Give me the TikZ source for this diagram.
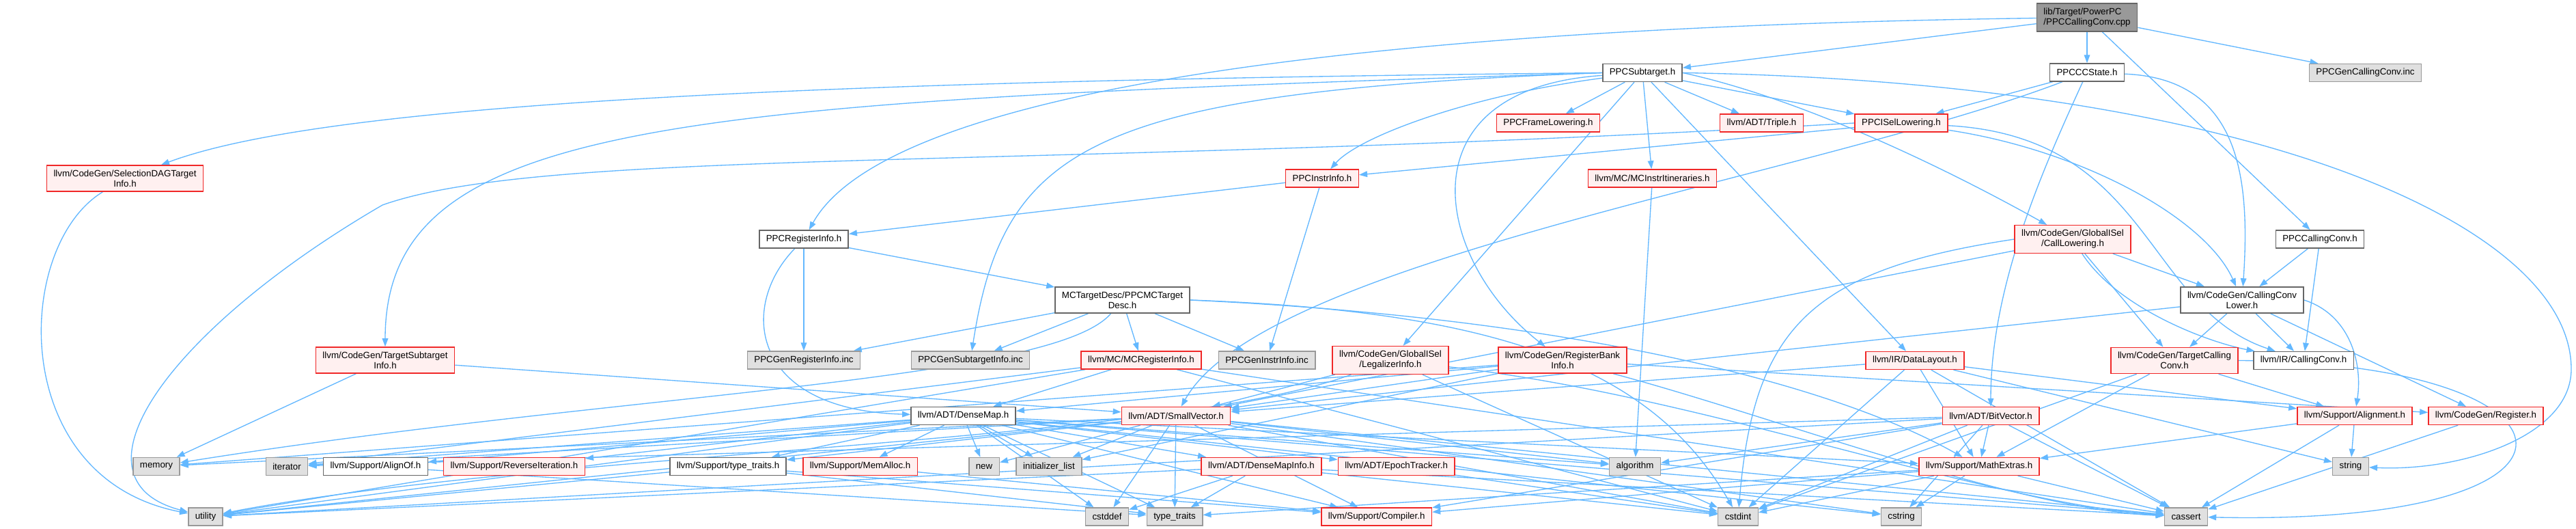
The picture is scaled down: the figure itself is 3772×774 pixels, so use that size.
\documentclass[tikz,border=0pt]{standalone}
\usepackage{fontspec}
\setmainfont{Liberation Sans}
\usetikzlibrary{arrows.meta,backgrounds}
\definecolor{edgeblue}{HTML}{63B8FF}
\definecolor{redfill}{HTML}{FFF0F0}
\definecolor{redline}{HTML}{F02828}
\definecolor{greyfill}{HTML}{E0E0E0}
\definecolor{greyline}{HTML}{999999}
\definecolor{rootfill}{HTML}{999999}
\definecolor{nodeline}{HTML}{666666}
\begin{document}
\begin{tikzpicture}[x=0.75pt,y=-0.75pt,
  base/.style={rectangle, font=\fontsize{10}{11.25}\selectfont, inner xsep=7.5pt, inner ysep=5pt, minimum height=19.5pt, line width=1.1pt, align=center},
  wbox/.style={base, draw=nodeline, fill=white},
  rbox/.style={base, draw=redline, fill=redfill},
  gbox/.style={base, draw=greyline, fill=greyfill},
  rootbox/.style={base, draw=nodeline, fill=rootfill, align=left},
  edge/.style={draw=edgeblue, line width=1pt, -{Triangle[length=9pt,width=6.5pt]}}
]
\useasboundingbox (0,0) rectangle (3772,774);
% ---------- nodes ----------
\node[rootbox] (root) at (3056,25.5) {lib/Target/PowerPC\\/PPCCallingConv.cpp};
\node[wbox] (subt) at (2405,106.5) {PPCSubtarget.h};
\node[wbox] (ccstate) at (3056,106) {PPCCCState.h};
\node[gbox] (gencc) at (3463.5,106.5) {PPCGenCallingConv.inc};
\node[rbox] (frame) at (2267,180) {PPCFrameLowering.h};
\node[rbox] (triple) at (2579.5,180) {llvm/ADT/Triple.h};
\node[rbox] (isel) at (2784,180) {PPCISelLowering.h};
\node[rbox] (seldag) at (183,261) {llvm/CodeGen/SelectionDAGTarget\\Info.h};
\node[rbox] (instrinfo) at (1936,261) {PPCInstrInfo.h};
\node[rbox] (itin) at (2419.5,261) {llvm/MC/MCInstrItineraries.h};
\node[wbox] (reginfo) at (1177,350) {PPCRegisterInfo.h};
\node[rbox] (calllow) at (3035,350) {llvm/CodeGen/GlobalISel\\/CallLowering.h};
\node[wbox] (ppccc) at (3397,350) {PPCCallingConv.h};
\node[wbox] (mcdesc) at (1643.5,439) {MCTargetDesc/PPCMCTarget\\Desc.h};
\node[wbox] (ccl) at (3283,439) {llvm/CodeGen/CallingConv\\Lower.h};
\node[rbox] (tsi) at (564,527) {llvm/CodeGen/TargetSubtarget\\Info.h};
\node[gbox] (genreg) at (1177,527) {PPCGenRegisterInfo.inc};
\node[gbox] (gensub) at (1421,527) {PPCGenSubtargetInfo.inc};
\node[rbox] (mcreg) at (1671,527) {llvm/MC/MCRegisterInfo.h};
\node[gbox] (geninstr) at (1855,527) {PPCGenInstrInfo.inc};
\node[rbox] (legal) at (2036,527) {llvm/CodeGen/GlobalISel\\/LegalizerInfo.h};
\node[rbox] (rbi) at (2288,527) {llvm/CodeGen/RegisterBank\\Info.h};
\node[rbox] (dl) at (2804,527.5) {llvm/IR/DataLayout.h};
\node[rbox] (tcc) at (3184,527.5) {llvm/CodeGen/TargetCalling\\Conv.h};
\node[wbox] (ircc) at (3373,527.5) {llvm/IR/CallingConv.h};
\node[wbox] (densemap) at (1410.5,608.5) {llvm/ADT/DenseMap.h};
\node[rbox] (smallvec) at (1722,608.5) {llvm/ADT/SmallVector.h};
\node[rbox] (bitvec) at (2915,608.5) {llvm/ADT/BitVector.h};
\node[rbox] (alignm) at (3448,608.5) {llvm/Support/Alignment.h};
\node[rbox] (register) at (3640,608.5) {llvm/CodeGen/Register.h};
\node[gbox] (memory) at (229,682.5) {memory};
\node[gbox] (iterator) at (420,682.5) {iterator};
\node[wbox] (alignof) at (550,682.5) {llvm/Support/AlignOf.h};
\node[rbox] (reviter) at (753,682.5) {llvm/Support/ReverseIteration.h};
\node[wbox] (ttraits) at (1066,682.5) {llvm/Support/type\_traits.h};
\node[rbox] (memalloc) at (1259.6,682.5) {llvm/Support/MemAlloc.h};
\node[gbox] (nnew) at (1441,682.5) {new};
\node[gbox] (initlist) at (1536,682.5) {initializer\_list};
\node[rbox] (dmi) at (1847,682.5) {llvm/ADT/DenseMapInfo.h};
\node[rbox] (epoch) at (2044.6,682.5) {llvm/ADT/EpochTracker.h};
\node[gbox] (algorithm) at (2394,682.5) {algorithm};
\node[rbox] (mathext) at (2898,682.5) {llvm/Support/MathExtras.h};
\node[gbox] (nstring) at (3442,682.5) {string};
\node[gbox] (utility) at (301,756) {utility};
\node[gbox] (cstddef) at (1621,756) {cstddef};
\node[gbox] (typetraits) at (1720,756) {type\_traits};
\node[rbox] (compiler) at (2015.7,756) {llvm/Support/Compiler.h};
\node[gbox] (cstdint) at (2545,756) {cstdint};
\node[gbox] (cstring) at (2784,756) {cstring};
\node[gbox] (cassert) at (3201,756) {cassert};
% ---------- edges ----------
\begin{scope}[on background layer]
\fill[white] (0,0) rectangle (3772,774);
% root
\draw[edge] (root) -- (subt);
\draw[edge] (root) -- (ccstate);
\draw[edge] (root) -- (gencc);
\draw[edge] (root) -- (ppccc);
\draw[edge] (root) .. controls (2000,40) and (1300,130) .. (reginfo);
% PPCSubtarget
\draw[edge] (subt) -- (frame);
\draw[edge] (subt) -- (triple);
\draw[edge] (subt) -- (isel);
\draw[edge] (subt) .. controls (2150,140) and (1990,200) .. (instrinfo);
\draw[edge] (subt) -- (itin);
\draw[edge] (subt.west) .. controls (1200,118) and (480,150) .. (seldag);
\draw[edge] (subt.west) .. controls (1000,150) and (564,170) .. (tsi);
\draw[edge] (subt.west) .. controls (1600,135) and (1470,210) .. (gensub);
\draw[edge] (subt) -- (legal);
\draw[edge] (subt) .. controls (2050,130) and (2100,380) .. (rbi);
\draw[edge] (subt) -- (dl);
\draw[edge] (subt.east) .. controls (2620,140) and (2820,230) .. (calllow);
\draw[edge] (subt.east) .. controls (3300,120) and (3765,330) .. (3765,540) .. controls (3765,640) and (3600,690) .. (nstring);
% PPCCCState
\draw[edge] (ccstate) -- (isel);
\draw[edge] (ccstate) .. controls (2990,250) and (2915,420) .. (bitvec);
\draw[edge] (ccstate) .. controls (3280,115) and (3295,260) .. (ccl);
\draw[edge] (ccstate) .. controls (2650,260) and (1850,380) .. (smallvec);
% PPCISelLowering
\draw[edge] (isel) -- (instrinfo);
\draw[edge] (isel) .. controls (3050,220) and (3230,320) .. (ccl);
\draw[edge] (isel) .. controls (3150,200) and (3140,450) .. (ircc);
\draw[edge] (isel.west) .. controls (1500,250) and (800,215) .. (560,300) .. controls (250,480) and (90,700) .. (utility);
% PPCInstrInfo
\draw[edge] (instrinfo) -- (reginfo);
\draw[edge] (instrinfo) -- (geninstr);
% PPCRegisterInfo
\draw[edge] (reginfo) -- (genreg);
\draw[edge] (reginfo) -- (mcdesc);
\draw[edge] (reginfo) .. controls (1080,450) and (1100,600) .. (densemap);
% MCTargetDesc
\draw[edge] (mcdesc) -- (genreg);
\draw[edge] (mcdesc) -- (gensub);
\draw[edge] (mcdesc) -- (mcreg);
\draw[edge] (mcdesc) -- (geninstr);
\draw[edge] (mcdesc) .. controls (1540,560) and (900,575) .. (memory);
\draw[edge] (mcdesc.east) .. controls (2200,455) and (2420,540) .. (cstdint);
\draw[edge] (mcdesc.east) .. controls (2300,465) and (2680,560) .. (mathext);
% SelectionDAGTargetInfo
\draw[edge] (seldag) .. controls (20,360) and (10,700) .. (utility);
% TargetSubtargetInfo
\draw[edge] (tsi) -- (memory);
\draw[edge] (tsi) -- (smallvec);
% MCInstrItineraries
\draw[edge] (itin) -- (algorithm);
% CallLowering
\draw[edge] (calllow) -- (ccl);
\draw[edge] (calllow) -- (tcc);
\draw[edge] (calllow) .. controls (3100,450) and (3230,500) .. (ircc);
\draw[edge] (calllow) -- (smallvec);
\draw[edge] (calllow.west) .. controls (2650,395) and (2568,480) .. (cstdint);
% PPCCallingConv.h
\draw[edge] (ppccc) -- (ccl);
\draw[edge] (ppccc) -- (ircc);
% CallingConvLower
\draw[edge] (ccl) -- (smallvec);
\draw[edge] (ccl) -- (tcc);
\draw[edge] (ccl) -- (ircc);
\draw[edge] (ccl) -- (register);
\draw[edge] (ccl.east) .. controls (3440,460) and (3460,530) .. (alignm);
% LegalizerInfo
\draw[edge] (legal) -- (smallvec);
\draw[edge] (legal) -- (cstdint);
\draw[edge] (legal) .. controls (2500,580) and (2900,735) .. (cassert);
\draw[edge] (legal) .. controls (1700,650) and (800,660) .. (utility);
% RegisterBankInfo
\draw[edge] (rbi) -- (densemap);
\draw[edge] (rbi) -- (smallvec);
\draw[edge] (rbi) -- (register);
\draw[edge] (rbi) .. controls (2600,610) and (2950,745) .. (cassert);
\draw[edge] (rbi) -- (initlist);
\draw[edge] (rbi) -- (memory);
% DataLayout
\foreach \t in {smallvec,alignm,mathext,cassert,cstdint,nstring} {\draw[edge] (dl) -- (\t);}
% TargetCallingConv
\draw[edge] (tcc) -- (alignm);
\draw[edge] (tcc) -- (mathext);
\draw[edge] (tcc.east) .. controls (3800,530) and (3850,770) .. (cassert);
\draw[edge] (tcc) -- (cstdint);
% DenseMap
\foreach \t in {dmi,epoch,alignof,compiler,mathext,memalloc,reviter,ttraits,algorithm,cassert,cstddef,cstring,initlist,iterator,nnew,typetraits,utility} {\draw[edge] (densemap) -- (\t);}
% SmallVector
\foreach \t in {compiler,ttraits,algorithm,cassert,cstddef,cstdint,cstring,initlist,iterator,memory,nnew,typetraits,utility} {\draw[edge] (smallvec) -- (\t);}
% MCRegisterInfo
\foreach \t in {densemap,cassert,cstdint,iterator,utility} {\draw[edge] (mcreg) -- (\t);}
% BitVector
\foreach \t in {compiler,mathext,algorithm,cassert,cstdint,cstring,iterator,utility} {\draw[edge] (bitvec) -- (\t);}
% Alignment
\foreach \t in {mathext,cassert,nstring} {\draw[edge] (alignm) -- (\t);}
% Register
\draw[edge] (register) -- (cassert);
% AlignOf
\draw[edge] (alignof) -- (typetraits);
% type_traits.h
\foreach \t in {compiler,typetraits,utility} {\draw[edge] (ttraits) -- (\t);}
% MemAlloc
\draw[edge] (memalloc) -- (compiler);
% DenseMapInfo
\foreach \t in {cassert,cstddef,cstdint,typetraits,utility} {\draw[edge] (dmi) -- (\t);}
% EpochTracker
\draw[edge] (epoch) -- (cstdint);
% MathExtras
\foreach \t in {compiler,cassert,cstdint,cstring,typetraits} {\draw[edge] (mathext) -- (\t);}
\end{scope}
\end{tikzpicture}
\end{document}
